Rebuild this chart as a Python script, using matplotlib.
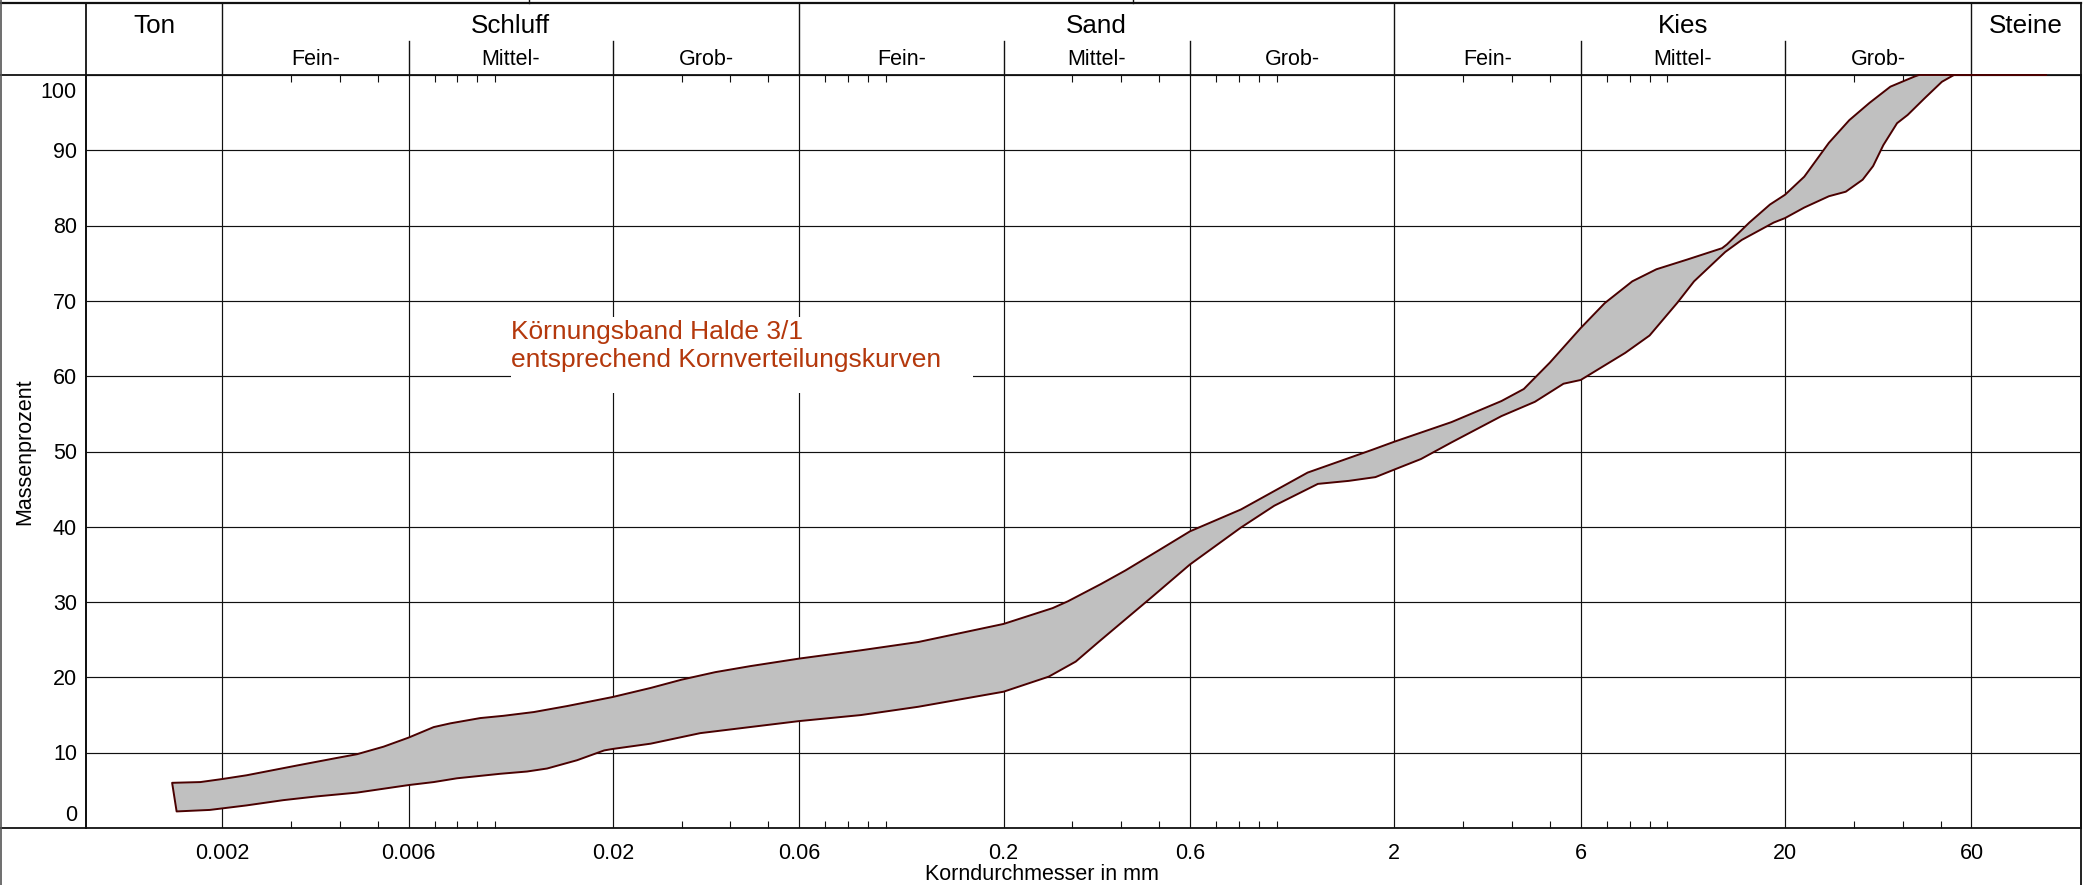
import numpy as np
import matplotlib
matplotlib.use("Agg")
import matplotlib.pyplot as plt
from matplotlib.transforms import blended_transform_factory, ScaledTranslation
from matplotlib.patches import Rectangle
from matplotlib.lines import Line2D
from matplotlib.ticker import NullFormatter

plt.rcParams['font.family'] = ['Liberation Sans', 'DejaVu Sans']

# ---------------- data ----------------
upper_d = [0.00149, 0.00176, 0.002, 0.00231, 0.00311, 0.00393, 0.00443, 0.00518, 0.006,
           0.00696, 0.00768, 0.00916, 0.0105, 0.01256, 0.0153, 0.02, 0.025, 0.03, 0.0366,
           0.045, 0.06, 0.0863, 0.121, 0.2, 0.267, 0.292, 0.355, 0.41, 0.5, 0.6, 0.81, 1.2,
           1.75, 2.0, 2.8, 3.76, 4.29, 5.0, 6.0, 6.91, 8.13, 9.37, 11.25, 13.8, 14.2, 16.2,
           18.3, 20.0, 22.4, 25.9, 29.2, 32.9, 37.2, 42.9, 44.0, 93.0]
upper_p = [6.0, 6.1, 6.5, 7.0, 8.3, 9.3, 9.8, 10.8, 12.0,
           13.4, 13.9, 14.6, 14.9, 15.4, 16.2, 17.4, 18.6, 19.7, 20.7,
           21.5, 22.5, 23.6, 24.7, 27.1, 29.2, 30.1, 32.4, 34.2, 36.9, 39.4, 42.3, 47.2,
           50.2, 51.3, 53.9, 56.7, 58.3, 61.8, 66.4, 69.7, 72.6, 74.2, 75.5, 77.0, 77.5, 80.4,
           82.8, 84.1, 86.5, 91.0, 94.0, 96.3, 98.45, 99.8, 100.0, 100.0]

lower_d = [0.00153, 0.00186, 0.002, 0.00231, 0.00287, 0.0035, 0.00443, 0.006, 0.00696,
           0.00798, 0.0103, 0.01206, 0.01358, 0.0162, 0.019, 0.02, 0.025, 0.0335, 0.06,
           0.0863, 0.121, 0.2, 0.261, 0.306, 0.35, 0.48, 0.6, 0.81, 0.986, 1.275, 1.53,
           1.79, 2.0, 2.34, 2.8, 3.76, 4.58, 5.42, 6.0, 7.8, 9.0, 10.6, 11.7, 14.06, 15.5,
           18.7, 20.0, 22.4, 25.9, 28.6, 31.6, 33.6, 35.7, 38.7, 41.2, 45.5, 50.4, 54.1, 93.0]
lower_p = [2.2, 2.4, 2.6, 3.0, 3.7, 4.2, 4.7, 5.7, 6.1,
           6.6, 7.2, 7.5, 7.9, 9.0, 10.3, 10.5, 11.2, 12.6, 14.2,
           15.0, 16.1, 18.1, 20.1, 22.1, 24.7, 30.7, 35.0, 39.9, 42.8, 45.7, 46.1,
           46.6, 47.6, 49.0, 51.2, 54.7, 56.6, 59.0, 59.5, 63.1, 65.4, 69.75, 72.6, 76.5, 78.1,
           80.4, 81.0, 82.4, 83.9, 84.5, 86.1, 87.9, 90.7, 93.6, 94.7, 96.9, 99.1, 100.0, 100.0]

main_bounds = [0.002, 0.06, 2, 60]
sub_bounds = [0.006, 0.02, 0.2, 0.6, 6, 20]
x_ticks = [0.002, 0.006, 0.02, 0.06, 0.2, 0.6, 2, 6, 20, 60]
x_tick_labels = ['0.002', '0.006', '0.02', '0.06', '0.2', '0.6', '2', '6', '20', '60']
minor_ticks = [0.003, 0.004, 0.005, 0.007, 0.008, 0.009, 0.01,
               0.03, 0.04, 0.05, 0.07, 0.08, 0.09, 0.1,
               0.3, 0.4, 0.5, 0.7, 0.8, 0.9, 1.0,
               3, 4, 5, 7, 8, 9, 10,
               30, 40, 50]
y_ticks = [0, 10, 20, 30, 40, 50, 60, 70, 80, 90, 100]
main_classes = ['Ton', 'Schluff', 'Sand', 'Kies', 'Steine']
sub_classes = ['Fein-', 'Mittel-', 'Grob-'] * 3
x_min, x_max = 0.000897, 114.4
annotation = "Körnungsband Halde 3/1\nentsprechend Kornverteilungskurven"

# ---------------- layout ----------------
W, H = 2092, 885
fig = plt.figure(figsize=(W / 100, H / 100), dpi=100)
ax = fig.add_axes([86 / W, 57 / H, 1995 / W, 753 / H])
ax.set_xscale('log')
ax.set_xlim(x_min, x_max)
ax.set_ylim(0, 100)

grid_c = '#111111'
line_c = '#111111'
fs_tick = 15.5

# ticks & grid
ax.set_xticks(x_ticks, x_tick_labels)
ax.set_xticks(minor_ticks, minor=True)
ax.xaxis.set_minor_formatter(NullFormatter())
ax.tick_params(axis='x', which='major', length=0, pad=10.5, labelsize=fs_tick)
ax.tick_params(axis='x', which='minor', direction='in', length=5, width=0.8,
               top=True, bottom=True, color=line_c)
ax.set_yticks(y_ticks)
ax.tick_params(axis='y', which='both', length=0, labelleft=False)
ax.grid(True, axis='both', which='major', color=grid_c, lw=0.85)
for s in ax.spines.values():
    s.set_color(line_c)
    s.set_linewidth(1.3)

# y tick labels (ends shifted inward)
tr_y = blended_transform_factory(fig.transFigure, ax.transData)
for i, v in enumerate(y_ticks):
    shift = 0.0
    if i == 0:
        shift = 10.8
    elif i == len(y_ticks) - 1:
        shift = -10.8
    off = ScaledTranslation(0, (shift - 0.358 * fs_tick) / 72, fig.dpi_scale_trans)
    ax.text(77 / W, v, str(v), transform=tr_y + off, ha='right', va='baseline',
            fontsize=fs_tick, clip_on=False)

# band
poly_x = list(upper_d) + list(lower_d[::-1])
poly_y = list(upper_p) + list(lower_p[::-1])
ax.fill(poly_x, poly_y, facecolor='#c0c0c0', edgecolor='#4a0000', lw=1.4, zorder=3,
        clip_on=False, joinstyle='round')

# annotation with white background
ax.add_patch(Rectangle((0.2130, 0.5777), 0.2316, 0.1009, transform=ax.transAxes,
                       facecolor='white', edgecolor='none', zorder=2))
ax.text(0.2130, 0.6745, annotation, transform=ax.transAxes, ha='left', va='top',
        fontsize=19, color='#b4380c', linespacing=1.2, zorder=4)

# header
xt = ax.get_xaxis_transform()
top_y = 1.0956
sub_y = 1.0452
for b in main_bounds:
    ax.plot([b, b], [1.0, top_y], transform=xt, color=line_c, lw=1.0, clip_on=False)
for b in sub_bounds:
    ax.plot([b, b], [1.0, sub_y], transform=xt, color=line_c, lw=1.0, clip_on=False)
main_edges = [x_min] + main_bounds + [x_max]
for i, name in enumerate(main_classes):
    c = np.sqrt(main_edges[i] * main_edges[i + 1])
    ax.text(c, 1.0558, name, transform=xt, ha='center', va='baseline', fontsize=18.7,
            clip_on=False)
for i, name in enumerate(sub_classes):
    c = np.sqrt(x_ticks[i] * x_ticks[i + 1])
    ax.text(c, 1.0133, name, transform=xt, ha='center', va='baseline', fontsize=15.5,
            clip_on=False)

# frame lines
ta = ax.transAxes
ax.plot([0, 0], [0, top_y], transform=ta, color=line_c, lw=1.3, clip_on=False)
ax.plot([1, 1], [-0.0757, top_y], transform=ta, color=line_c, lw=1.3, clip_on=False)
tfa = blended_transform_factory(fig.transFigure, ax.transAxes)
ax.plot([0, 2081 / W], [top_y, top_y], transform=tfa, color=line_c, lw=1.6, clip_on=False)
ax.plot([0, 86 / W], [1.0, 1.0], transform=tfa, color=line_c, lw=1.3, clip_on=False)
ax.plot([0, 86 / W], [0.0, 0.0], transform=tfa, color=line_c, lw=1.3, clip_on=False)
fig.add_artist(Line2D([1.2 / W, 1.2 / W], [0, 1], transform=fig.transFigure,
                      color='#555555', lw=1.2))
for xp in (529, 1133):
    fig.add_artist(Line2D([xp / W, xp / W], [1 - 3 / H, 1], transform=fig.transFigure,
                          color=line_c, lw=1.0))

# axis titles
fig.text(25 / W, (H - 452) / H, 'Massenprozent', rotation=90, ha='center', va='center',
         fontsize=15.5)
fig.text(1042 / W, 5 / H, 'Korndurchmesser in mm', ha='center', va='baseline',
         fontsize=15.5)

fig.savefig('out.png', dpi=100)
